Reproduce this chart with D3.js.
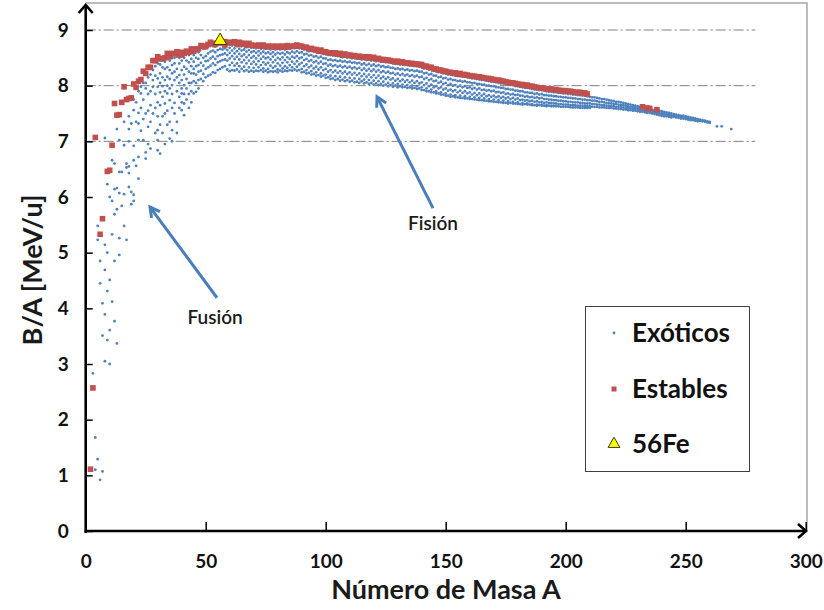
<!DOCTYPE html>
<html><head><meta charset="utf-8">
<script src="https://cdn.jsdelivr.net/npm/d3@7"></script>
<style>body{margin:0;background:#fff}svg{display:block}text{font-family:Lato,"Open Sans",sans-serif}</style>
</head><body><svg id="c" width="824" height="610"></svg>
<script>
const xTicks=[0,50,100,150,200,250,300];
const yTicks=[0,1,2,3,4,5,6,7,8,9];
const gridValues=[7,8,9];
const hierro56=[56,8.79];
const estables=[[2,1.11],[3,2.57],[4,7.07],[6,5.33],[7,5.61],[9,6.46],[10,6.48],[11,6.93],[12,7.68],[13,7.47],[14,7.48],[15,7.70],[16,7.98],[17,7.75],[18,7.77],[19,7.78],[20,8.03],[21,7.97],[22,8.08],[23,8.11],[24,8.26],[25,8.22],[26,8.33],[27,8.33],[28,8.45],[29,8.45],[30,8.52],[31,8.48],[32,8.49],[33,8.50],[34,8.58],[35,8.52],[36,8.58],[37,8.57],[38,8.61],[39,8.56],[40,8.60],[40,8.55],[41,8.58],[42,8.62],[43,8.60],[44,8.66],[45,8.62],[46,8.66],[47,8.66],[48,8.72],[49,8.71],[50,8.70],[51,8.74],[52,8.78],[53,8.76],[54,8.74],[55,8.77],[57,8.77],[58,8.79],[58,8.73],[59,8.77],[60,8.78],[61,8.77],[62,8.79],[63,8.75],[64,8.78],[64,8.74],[65,8.76],[66,8.76],[67,8.73],[68,8.76],[69,8.73],[70,8.72],[71,8.72],[72,8.73],[73,8.71],[74,8.73],[75,8.70],[76,8.71],[77,8.70],[78,8.71],[79,8.69],[80,8.71],[81,8.70],[82,8.71],[83,8.69],[84,8.72],[85,8.70],[86,8.71],[87,8.71],[88,8.73],[89,8.71],[90,8.71],[91,8.69],[92,8.69],[93,8.66],[94,8.67],[95,8.65],[96,8.65],[97,8.62],[98,8.64],[99,8.61],[100,8.61],[101,8.59],[102,8.59],[103,8.58],[104,8.59],[105,8.57],[106,8.58],[107,8.55],[108,8.57],[109,8.55],[110,8.55],[111,8.54],[112,8.54],[113,8.52],[114,8.53],[115,8.51],[116,8.52],[117,8.50],[118,8.52],[119,8.50],[120,8.51],[121,8.48],[122,8.49],[123,8.47],[124,8.47],[125,8.46],[126,8.46],[127,8.45],[128,8.44],[129,8.43],[130,8.44],[131,8.42],[132,8.43],[133,8.41],[134,8.41],[135,8.40],[136,8.40],[137,8.39],[138,8.39],[139,8.38],[140,8.38],[141,8.35],[142,8.35],[143,8.33],[144,8.33],[145,8.30],[146,8.30],[147,8.28],[148,8.28],[149,8.26],[150,8.26],[151,8.24],[152,8.24],[153,8.23],[154,8.23],[155,8.21],[156,8.22],[157,8.20],[158,8.20],[159,8.19],[160,8.18],[161,8.17],[162,8.17],[163,8.16],[164,8.16],[165,8.15],[166,8.14],[167,8.13],[168,8.13],[169,8.12],[170,8.11],[171,8.10],[172,8.10],[173,8.09],[174,8.08],[175,8.07],[176,8.06],[177,8.05],[178,8.05],[179,8.04],[180,8.03],[181,8.02],[182,8.02],[183,8.01],[184,8.01],[185,7.99],[186,7.99],[187,7.98],[188,7.97],[189,7.96],[190,7.96],[191,7.95],[192,7.94],[193,7.94],[194,7.94],[195,7.93],[196,7.93],[197,7.92],[198,7.91],[199,7.91],[200,7.91],[201,7.90],[202,7.90],[203,7.89],[204,7.88],[205,7.88],[206,7.88],[207,7.87],[208,7.87],[209,7.85],[232,7.62],[234,7.60],[235,7.59],[238,7.57]];
const exoticosLigeros=[[3,2.83],[4,1.68],[4,1.10],[5,1.29],[5,5.48],[5,5.23],[6,0.92],[6,4.85],[6,4.45],[7,1.07],[7,4.09],[7,3.51],[8,7.06],[8,5.14],[8,4.69],[8,3.89],[8,3.05],[9,6.23],[9,5.00],[9,4.31],[9,3.43],[10,6.00],[10,4.51],[10,3.61],[10,3.00],[11,6.66],[11,5.93],[11,5.33],[11,4.12],[12,6.14],[12,5.69],[12,4.85],[12,3.77],[12,6.60],[13,7.22],[13,5.78],[13,3.37],[13,6.16],[14,7.02],[14,6.07],[14,5.26],[14,4.96],[14,6.45],[15,5.84],[15,6.45],[16,7.35],[16,6.93],[16,6.05],[16,5.48],[17,5.23],[17,6.53],[17,6.60],[18,7.45],[18,7.22],[18,7.00],[18,6.18],[18,6.43],[18,6.55],[19,7.32],[19,6.09],[19,5.87],[20,7.56],[20,6.92],[20,6.66],[20,6.04],[20,5.93],[20,7.75],[21,6.56],[21,7.70],[21,7.35],[22,7.51],[22,7.32],[22,7.02],[22,6.72],[22,6.33],[22,7.90],[23,7.86],[23,7.19],[23,7.98],[23,7.60],[24,7.02],[24,8.05],[24,7.75],[24,7.40],[25,7.50],[25,6.69],[25,6.80],[25,8.05],[25,7.95],[26,7.26],[26,8.15],[26,7.85],[26,7.55],[26,6.95],[27,6.87],[27,7.35],[27,8.20],[27,7.90],[27,7.65],[28,8.28],[28,7.98],[28,7.50],[28,8.10],[29,8.35],[29,8.18],[29,7.85],[29,7.60],[29,7.15],[30,8.13],[30,7.20],[30,6.84],[30,7.98],[30,7.02],[30,8.40],[30,7.70],[30,7.45],[31,6.78],[31,7.65],[31,8.38],[31,8.22],[31,8.05],[31,7.88],[31,7.30],[32,8.33],[32,7.99],[32,7.45],[32,8.45],[32,8.15],[32,7.80],[32,7.15],[33,7.68],[33,8.43],[33,8.30],[33,8.10],[33,7.90],[33,7.50],[33,6.95],[34,8.16],[34,7.86],[34,8.48],[34,8.33],[34,8.00],[34,7.55],[34,7.30],[35,7.35],[35,7.05],[35,7.74],[35,8.45],[35,8.28],[35,8.12],[35,7.95],[36,8.37],[36,8.01],[36,7.20],[36,7.00],[36,8.50],[36,8.22],[36,7.85],[36,7.60],[37,7.69],[37,8.50],[37,8.40],[37,8.25],[37,8.10],[37,7.50],[38,7.35],[38,8.52],[38,8.30],[38,8.15],[38,7.90],[38,7.15],[39,8.19],[39,7.80],[39,8.50],[39,8.40],[39,8.05],[39,7.60],[40,7.86],[40,7.56],[40,8.45],[40,8.28],[40,8.10],[40,7.95],[40,7.70],[41,8.34],[41,8.01],[41,7.68],[41,7.47],[41,8.50],[41,8.20],[41,7.85],[42,8.58],[42,8.45],[42,8.30],[42,8.12],[42,7.95],[42,7.75],[43,8.55],[43,8.42],[43,8.25],[43,8.05],[43,7.85],[43,7.60],[44,8.05],[44,8.60],[44,8.48],[44,8.35],[44,8.22],[44,7.90],[44,7.70],[45,8.43],[45,8.22],[45,7.86],[45,8.55],[45,8.30],[45,8.08],[46,7.89],[46,8.62],[46,8.50],[46,8.35],[46,8.20],[46,8.05],[47,8.37],[47,8.60],[47,8.48],[47,8.25],[47,8.10],[47,7.95]];
const exoticosPesados=[
[48,8.68,8.55,8.41,8.27,8.12],[49,8.66,8.50,8.36,8.21,8.08],[50,8.67,8.53,8.44,8.30,8.15],[51,8.70,8.58,8.45,8.33,8.18],[52,8.72,8.61,8.49,8.36,8.20],[53,8.71,8.63,8.52,8.40,8.24],[54,8.70,8.60,8.48,8.37,8.23],[55,8.73,8.64,8.53,8.42,8.28],[56,8.74,8.66,8.55,8.44,8.30],[57,8.73,8.65,8.56,8.46,8.33],[58,8.75,8.67,8.58,8.47,8.35],[59,8.73,8.64,8.55,8.45,8.29],
[60,8.74,8.68,8.59,8.49,8.37,8.26],[61,8.72,8.63,8.53,8.41,8.28],[62,8.75,8.67,8.58,8.48,8.36,8.27],[63,8.71,8.62,8.52,8.40,8.29],[64,8.73,8.66,8.57,8.47,8.35,8.25],[65,8.71,8.63,8.53,8.42,8.30],[66,8.72,8.65,8.56,8.46,8.34,8.26],[67,8.69,8.61,8.51,8.40,8.28],[68,8.71,8.64,8.55,8.45,8.33,8.25],[69,8.68,8.60,8.50,8.39,8.27],
[70,8.69,8.62,8.53,8.43,8.32,8.25],[71,8.67,8.59,8.49,8.38,8.27],[72,8.69,8.62,8.54,8.44,8.33,8.26],[73,8.66,8.58,8.48,8.37,8.28],[74,8.68,8.61,8.52,8.42,8.31,8.25],[75,8.66,8.58,8.49,8.38,8.27],[76,8.67,8.60,8.51,8.41,8.30,8.24],[77,8.65,8.57,8.47,8.36,8.26],[78,8.67,8.60,8.52,8.42,8.32,8.25],[79,8.65,8.56,8.46,8.35,8.26],
[80,8.66,8.59,8.50,8.40,8.29,8.24],[81,8.65,8.57,8.47,8.36,8.27],[82,8.66,8.59,8.51,8.41,8.31,8.25],[83,8.65,8.56,8.46,8.35,8.27],[84,8.67,8.60,8.51,8.42,8.32,8.26],[85,8.66,8.58,8.48,8.37,8.28],[86,8.68,8.61,8.52,8.43,8.33,8.27],[87,8.67,8.59,8.50,8.39,8.29],[88,8.69,8.62,8.53,8.44,8.34,8.27],[89,8.67,8.59,8.49,8.38,8.28],
[90,8.67,8.60,8.51,8.41,8.30,8.24],[91,8.65,8.56,8.46,8.35,8.25],[92,8.65,8.57,8.48,8.38,8.28,8.22],[93,8.62,8.54,8.44,8.33,8.23],[94,8.63,8.55,8.46,8.36,8.26,8.20],[95,8.61,8.52,8.42,8.31,8.21],[96,8.61,8.53,8.44,8.34,8.24,8.18],[97,8.59,8.50,8.40,8.29,8.19],[98,8.60,8.52,8.43,8.33,8.22,8.16],[99,8.57,8.49,8.39,8.28,8.18],
[100,8.57,8.49,8.40,8.30,8.20,8.14],[101,8.55,8.46,8.36,8.25,8.15],[102,8.55,8.47,8.38,8.28,8.18,8.12],[103,8.54,8.45,8.35,8.24,8.13],[104,8.54,8.46,8.37,8.27,8.17,8.10],[105,8.53,8.44,8.34,8.23,8.12],[106,8.53,8.45,8.36,8.26,8.16,8.09],[107,8.51,8.43,8.33,8.22,8.11],[108,8.52,8.44,8.35,8.25,8.15,8.08],[109,8.50,8.42,8.32,8.21,8.10],
[110,8.51,8.43,8.34,8.24,8.14,8.07],[111,8.49,8.41,8.31,8.20,8.09],[112,8.50,8.42,8.33,8.23,8.13,8.06],[113,8.48,8.40,8.30,8.19,8.07],[114,8.49,8.41,8.32,8.22,8.12,8.05],[115,8.47,8.38,8.28,8.17,8.08],[116,8.48,8.40,8.31,8.21,8.11,8.04],[117,8.46,8.37,8.27,8.16,8.06],[118,8.47,8.39,8.30,8.20,8.10,8.03],[119,8.45,8.36,8.26,8.15,8.05],
[120,8.46,8.38,8.29,8.19,8.09,8.02],[121,8.44,8.35,8.25,8.14,8.04],[122,8.45,8.37,8.28,8.18,8.08,8.01],[123,8.43,8.34,8.24,8.13,8.03],[124,8.43,8.35,8.26,8.16,8.07,8.00],[125,8.42,8.33,8.23,8.12,8.02],[126,8.42,8.34,8.25,8.15,8.05,7.99],[127,8.41,8.32,8.22,8.11,8.01],[128,8.40,8.32,8.23,8.13,8.04,7.98],[129,8.39,8.30,8.20,8.09,8.00],
[130,8.39,8.31,8.22,8.12,8.03,7.97],[131,8.38,8.29,8.19,8.08,7.99],[132,8.38,8.30,8.21,8.11,8.02,7.97],[133,8.37,8.28,8.18,8.07,7.98],[134,8.37,8.29,8.20,8.10,8.01,7.96],[135,8.36,8.27,8.17,8.06,7.97],[136,8.36,8.28,8.19,8.09,8.00,7.95],[137,8.35,8.26,8.16,8.05,7.96],[138,8.35,8.27,8.18,8.08,7.99,7.94],[139,8.34,8.25,8.15,8.04,7.95],
[140,8.33,8.25,8.16,8.06,7.97,7.92],[141,8.31,8.22,8.12,8.01,7.92],[142,8.31,8.23,8.14,8.04,7.95,7.90],[143,8.29,8.20,8.10,7.99,7.90],[144,8.29,8.21,8.12,8.02,7.93,7.88],[145,8.27,8.18,8.08,7.97,7.88],[146,8.26,8.18,8.09,7.99,7.90,7.86],[147,8.24,8.15,8.05,7.95,7.86],[148,8.24,8.16,8.07,7.97,7.88,7.84],[149,8.22,8.13,8.03,7.93,7.84],
[150,8.22,8.14,8.05,7.95,7.86,7.82],[151,8.20,8.11,8.01,7.91,7.82],[152,8.20,8.12,8.03,7.93,7.84,7.80],[153,8.19,8.10,8.00,7.90,7.81],[154,8.18,8.10,8.01,7.92,7.83,7.79],[155,8.17,8.08,7.98,7.88,7.79],[156,8.17,8.09,8.00,7.91,7.82,7.78],[157,8.16,8.07,7.97,7.87,7.78],[158,8.16,8.08,7.99,7.90,7.81,7.77],[159,8.15,8.06,7.96,7.86,7.77],
[160,8.14,8.06,7.97,7.88,7.80,7.76],[161,8.13,8.04,7.94,7.84,7.76],[162,8.13,8.05,7.96,7.87,7.79,7.75],[163,8.12,8.03,7.93,7.83,7.75],[164,8.11,8.03,7.95,7.86,7.78,7.74],[165,8.10,8.02,7.92,7.82,7.74],[166,8.10,8.02,7.93,7.85,7.77,7.73],[167,8.09,8.00,7.91,7.81,7.73],[168,8.08,8.00,7.92,7.83,7.76,7.72],[169,8.07,7.99,7.90,7.80,7.72],
[170,8.07,7.99,7.91,7.82,7.75,7.71],[171,8.06,7.97,7.88,7.79,7.71],[172,8.05,7.97,7.89,7.81,7.74,7.70],[173,8.04,7.96,7.87,7.78,7.70],[174,8.04,7.96,7.88,7.80,7.73,7.69],[175,8.03,7.94,7.85,7.77,7.69],[176,8.02,7.94,7.86,7.79,7.72,7.68],[177,8.01,7.93,7.84,7.76,7.69],[178,8.01,7.93,7.85,7.78,7.71,7.68],[179,7.99,7.91,7.83,7.75,7.68],
[180,7.99,7.91,7.84,7.77,7.70,7.67],[181,7.98,7.90,7.82,7.74,7.67],[182,7.97,7.90,7.82,7.75,7.69,7.66],[183,7.96,7.88,7.80,7.73,7.67],[184,7.96,7.88,7.81,7.74,7.68,7.66],[185,7.95,7.87,7.79,7.72,7.66],[186,7.94,7.87,7.80,7.73,7.67,7.65],[187,7.93,7.85,7.78,7.71,7.65],[188,7.93,7.86,7.79,7.72,7.66,7.64],[189,7.92,7.84,7.77,7.70,7.65],
[190,7.92,7.85,7.78,7.71,7.66,7.64],[191,7.91,7.83,7.76,7.69,7.64],[192,7.90,7.83,7.76,7.70,7.65,7.63],[193,7.89,7.82,7.75,7.69,7.64],[194,7.89,7.82,7.75,7.69,7.64,7.63],[195,7.88,7.81,7.74,7.68,7.63],[196,7.88,7.81,7.74,7.68,7.63],[197,7.87,7.80,7.73,7.67,7.63],[198,7.87,7.80,7.73,7.67,7.62],[199,7.86,7.79,7.72,7.66,7.62],
[200,7.86,7.79,7.72,7.66,7.62],[201,7.85,7.78,7.71,7.66,7.62],[202,7.85,7.78,7.71,7.65,7.61],[203,7.84,7.77,7.70,7.65,7.61],[204,7.84,7.77,7.70,7.65,7.61],[205,7.83,7.76,7.70,7.64,7.61],[206,7.83,7.76,7.69,7.64,7.60],[207,7.82,7.75,7.69,7.64,7.60],[208,7.82,7.75,7.68,7.63,7.60],[209,7.81,7.74,7.68,7.63,7.60],
[210,7.80,7.74,7.68,7.63,7.60],[211,7.79,7.73,7.67,7.62],[212,7.79,7.73,7.67,7.62],[213,7.78,7.72,7.66,7.62],[214,7.77,7.71,7.66,7.61],[215,7.76,7.71,7.65,7.61],[216,7.76,7.70,7.65,7.61],[217,7.75,7.69,7.64,7.60],[218,7.74,7.69,7.64,7.60],[219,7.73,7.68,7.63,7.60],
[220,7.72,7.67,7.63,7.59],[221,7.71,7.67,7.62,7.59],[222,7.71,7.66,7.62,7.58],[223,7.70,7.65,7.61,7.58],[224,7.69,7.65,7.61,7.57],[225,7.68,7.64,7.60,7.57],[226,7.67,7.63,7.60,7.56],[227,7.66,7.62,7.59,7.56],[228,7.65,7.62,7.58,7.55],[229,7.64,7.61,7.58,7.55],
[230,7.63,7.60,7.57,7.54],[231,7.62,7.59,7.56,7.53],[232,7.61,7.58,7.55,7.53],[233,7.60,7.57,7.54,7.52],[234,7.59,7.57,7.54,7.51],[235,7.58,7.56,7.53,7.51],[236,7.57,7.55,7.52,7.50],[237,7.56,7.54,7.51,7.49],[238,7.56,7.53,7.50,7.48],[239,7.55,7.52,7.49,7.47],
[240,7.54,7.51,7.48,7.46],[241,7.53,7.50,7.47,7.45],[242,7.52,7.49,7.47,7.45],[243,7.51,7.48,7.46,7.44],[244,7.50,7.47,7.45,7.43],[245,7.49,7.46,7.44],[246,7.48,7.46,7.43],[247,7.47,7.45,7.42],[248,7.46,7.44,7.41],[249,7.46,7.43,7.41],
[250,7.45,7.42,7.40],[251,7.44,7.41,7.39],[252,7.43,7.40,7.38],[253,7.42,7.40,7.38],[254,7.41,7.39,7.37],[255,7.40,7.38,7.36],[256,7.39,7.37],[257,7.38,7.36],[258,7.37,7.35],[259,7.36,7.34],[260,7.35,7.33],[263,7.27],[265,7.27],[269,7.22]];
const anotaciones=[{texto:"Fusión",desde:[54.7,4.19],hasta:[26.8,5.82],etiqueta:[53.9,3.84]},{texto:"Fisión",desde:[144.7,5.80],hasta:[121.4,7.80],etiqueta:[144.7,5.53]}];
const leyenda=["Exóticos","Estables","56Fe"];

const svg=d3.select("#c");
const x=d3.scaleLinear().domain([0,300]).range([85.7,805.7]);
const y=d3.scaleLinear().domain([0,9]).range([531,30]);
const blue="#4f81bd",red="#c0504d";

svg.append("path").attr("d",`M${x(0)},3H807V${y(0)}`).attr("fill","none").attr("stroke","#a6a6a6").attr("stroke-width",1.5);

svg.append("g").selectAll("line").data(gridValues).join("line")
 .attr("x1",x(0)).attr("x2",x(279)).attr("y1",d=>y(d)).attr("y2",d=>y(d))
 .attr("stroke","#808080").attr("stroke-width",1).attr("stroke-dasharray","10,3,2,3");

const exo=[];
exoticosLigeros.forEach(d=>exo.push(d));
exoticosPesados.forEach(r=>r.slice(1).forEach(v=>exo.push([r[0],v])));
svg.append("g").selectAll("circle").data(exo).join("circle")
 .attr("cx",d=>x(d[0])).attr("cy",d=>y(d[1])).attr("r",1.4).attr("fill",blue);

svg.append("g").selectAll("rect").data(estables).join("rect")
 .attr("x",d=>x(d[0])-2.8).attr("y",d=>y(d[1])-2.8).attr("width",5.6).attr("height",5.6).attr("fill",red);

const tri=d3.symbol().type(d3.symbolTriangle).size(75);
svg.append("path").attr("d",tri()).attr("transform",`translate(${x(hierro56[0])},${y(hierro56[1])-1})`)
 .attr("fill","#ffff00").attr("stroke","#3a3a00").attr("stroke-width",1);

const yAx=d3.axisLeft(y).tickValues(yTicks).tickSize(-7).tickSizeOuter(0).tickPadding(17).tickFormat(d3.format("d"));
const gy=svg.append("g").attr("transform",`translate(${x(0)},0)`).call(yAx);
const xAx=d3.axisBottom(x).tickValues(xTicks).tickSize(-9).tickSizeOuter(0).tickPadding(24).tickFormat(d3.format("d"));
const gx=svg.append("g").attr("transform",`translate(0,${y(0)})`).call(xAx);
[gx,gy].forEach(g=>{g.select(".domain").remove();g.selectAll(".tick line").attr("stroke","#000").attr("stroke-width",1.5);
 g.selectAll(".tick text").attr("font-size",19).attr("font-weight",700).attr("fill","#111").attr("font-family","Lato,'Open Sans',sans-serif");});
gx.selectAll(".tick").filter(d=>d===0).select("line").remove();

svg.append("line").attr("x1",x(0)).attr("x2",x(0)).attr("y1",y(0)+2).attr("y2",5).attr("stroke","#000").attr("stroke-width",2.6);
svg.append("line").attr("x1",x(0)-1).attr("x2",806).attr("y1",y(0)).attr("y2",y(0)).attr("stroke","#000").attr("stroke-width",2.6);
svg.append("path").attr("d",`M${x(0)-7},13L${x(0)},5L${x(0)+7},13`).attr("fill","none").attr("stroke","#000").attr("stroke-width",2.6);
svg.append("path").attr("d",`M798,${y(0)-7}L806,${y(0)}L798,${y(0)+7}`).attr("fill","none").attr("stroke","#000").attr("stroke-width",2.6);

svg.append("text").attr("x",446).attr("y",599).attr("text-anchor","middle").attr("font-size",27).attr("font-weight",700).attr("fill","#1a1a1a").text("Número de Masa A");
svg.append("text").attr("transform","translate(42,270) rotate(-90)").attr("text-anchor","middle").attr("font-size",27).attr("font-weight",700).attr("fill","#1a1a1a").text("B/A [MeV/u]");

const ag=svg.append("g");
anotaciones.forEach(a=>{
 const x1=x(a.desde[0]),y1=y(a.desde[1]),x2=x(a.hasta[0]),y2=y(a.hasta[1]);
 const ang=Math.atan2(y2-y1,x2-x1),L=11,w=0.5;
 ag.append("line").attr("x1",x1).attr("y1",y1).attr("x2",x2).attr("y2",y2).attr("stroke","#4a7ebb").attr("stroke-width",3);
 ag.append("path").attr("d",`M${x2-L*Math.cos(ang-w)},${y2-L*Math.sin(ang-w)}L${x2},${y2}L${x2-L*Math.cos(ang+w)},${y2-L*Math.sin(ang+w)}`)
  .attr("fill","none").attr("stroke","#4a7ebb").attr("stroke-width",3).attr("stroke-linejoin","miter");
 ag.append("text").attr("x",x(a.etiqueta[0])).attr("y",y(a.etiqueta[1])+7).attr("text-anchor","middle").attr("font-size",19).attr("font-weight",600).attr("fill","#1a1a1a").text(a.texto);
});

const lg=svg.append("g");
lg.append("rect").attr("x",585.5).attr("y",306.5).attr("width",164).attr("height",165).attr("fill","#fff").attr("stroke","#404040").attr("stroke-width",1);
const ly=[333,389,444];
lg.append("circle").attr("cx",614).attr("cy",ly[0]).attr("r",1.4).attr("fill",blue);
lg.append("rect").attr("x",611.5).attr("y",ly[1]-2.5).attr("width",5).attr("height",5).attr("fill",red);
lg.append("path").attr("d",d3.symbol().type(d3.symbolTriangle).size(60)()).attr("transform",`translate(614,${ly[2]})`).attr("fill","#ffff00").attr("stroke","#3a3a00").attr("stroke-width",1);
leyenda.forEach((t,i)=>lg.append("text").attr("x",632).attr("y",ly[i]+9).attr("font-size",26).attr("font-weight",700).attr("fill","#111").text(t));
</script></body></html>
